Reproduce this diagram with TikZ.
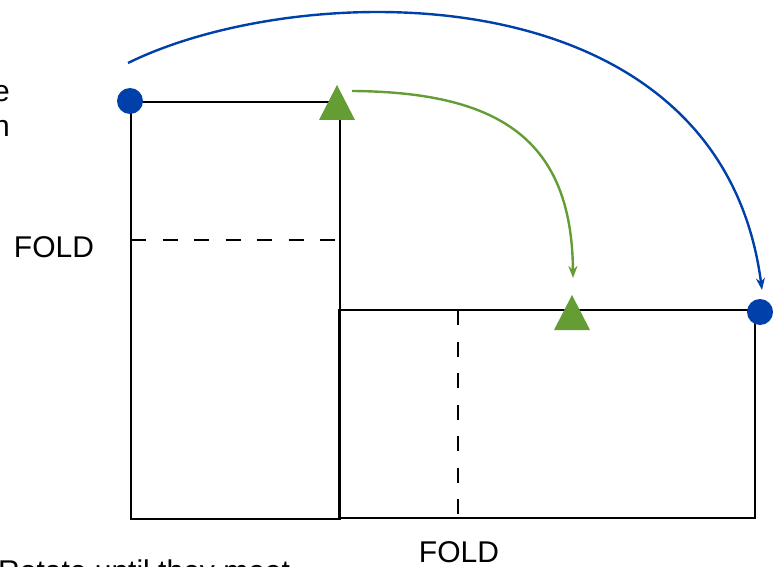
\documentclass[tikz,border=0pt]{standalone}
\usepackage{fontspec}
\setmainfont{Liberation Sans}
\usetikzlibrary{arrows.meta}

\definecolor{dotblue}{RGB}{0,64,170}
\definecolor{markgreen}{RGB}{100,157,52}

\begin{document}
\begin{tikzpicture}[x=1pt,y=-1pt,
  sheet/.style={line width=2.6pt,black},
  foldline/.style={line width=2.6pt,black,dash pattern=on 15pt off 16.5pt},
  foldlabel/.style={font=\fontsize{30}{35}\selectfont,inner sep=0pt},
  movearrow/.style={line width=2.4pt,-{Stealth[length=12pt,width=9pt]}}]

% Page size and clipping
\useasboundingbox (0,0) rectangle (774,567);
\clip (0,0) rectangle (774,567);

% Sheet before rotation
\draw[sheet] (131,102) rectangle (340,519);
\draw[foldline] (131,240) -- (340,240);

% Sheet after rotation
\draw[sheet] (339,310) rectangle (755,518);
\draw[foldline] (458,310) -- (458,518);

% Fold labels
\node[foldlabel,anchor=base] (foldleft) at (54,257) {FOLD};
\node[foldlabel,anchor=base] (foldbottom) at (459,562) {FOLD};

% Text cut off at the page edges
\node[foldlabel,anchor=base east] (noteone) at (10,102) {corner before};
\node[foldlabel,anchor=base east] (notetwo) at (10,137) {rotation};
\node[foldlabel,anchor=base west] (notethree) at (-2,581) {Rotate until they meet};

% Corner markers
\fill[dotblue] (130,101) circle (13pt);
\fill[dotblue] (760,312) circle (13pt);
\fill[markgreen] (319,120) -- (337,85) -- (355,120) -- cycle;
\fill[markgreen] (554,330) -- (572,295) -- (590,330) -- cycle;

% Arrow end points
\coordinate (bluestart) at (128,63);
\coordinate (blueend) at (762,290);
\coordinate (greenstart) at (352,91);
\coordinate (greenend) at (573,278);

% Rotation arrows
\draw[movearrow,dotblue] (bluestart) .. controls (300,-22) and (720,-32) .. (blueend);
\draw[movearrow,markgreen] (greenstart) .. controls (500,92) and (572,140) .. (greenend);

\end{tikzpicture}
\end{document}
